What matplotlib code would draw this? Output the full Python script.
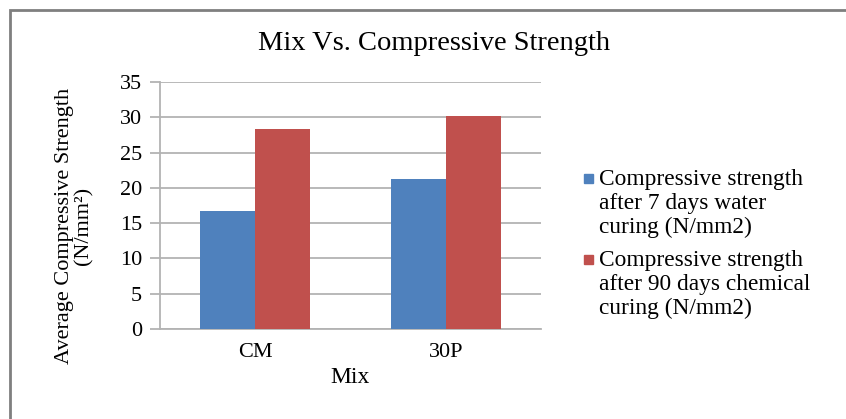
import matplotlib
matplotlib.use("Agg")
import matplotlib.pyplot as plt
import matplotlib.patches as mpatches
import numpy as np

plt.rcParams['font.family'] = ['Liberation Serif', 'DejaVu Serif']

mixes = ["CM", "30P"]
water_7d = [16.7, 21.2]
chem_90d = [28.3, 30.2]
labels = ["Compressive strength\nafter 7 days water\ncuring (N/mm2)",
          "Compressive strength\nafter 90 days chemical\ncuring (N/mm2)"]
colors = ["#4F81BD", "#C0504D"]
yticks = [0, 5, 10, 15, 20, 25, 30, 35]

W, H = 846, 419
fig = plt.figure(figsize=(W / 100, H / 100), dpi=100)
ax = fig.add_axes([160 / W, 1 - 329 / H, 381 / W, 247 / H])

x = np.arange(len(mixes))
bw = 0.29
ax.bar(x - bw / 2, water_7d, bw, color=colors[0], zorder=3)
ax.bar(x + bw / 2, chem_90d, bw, color=colors[1], zorder=3)

ax.set_xlim(-0.5, 1.5)
ax.set_ylim(0, 35)
ax.set_yticks(yticks)
ax.set_xticks(x)
ax.set_xticklabels(mixes)
ax.grid(axis='y', color='#b3b3b3', linewidth=1.3, zorder=0)
ax.tick_params(axis='y', length=7, color='#b3b3b3', width=1.3, labelsize=16, pad=6)
ax.tick_params(axis='x', length=0, labelsize=16, pad=10)
for s in ['top', 'right']:
    ax.spines[s].set_visible(False)
for s in ['left', 'bottom']:
    ax.spines[s].set_color('#b3b3b3')
    ax.spines[s].set_linewidth(1.3)

ax.set_xlabel("Mix", fontsize=17, labelpad=4)
ax.set_ylabel("Average Compressive Strength\n(N/mm²)", fontsize=16, linespacing=0.95)
ax.yaxis.set_label_coords((93 - 160) / 381, (329 - 226) / 247)
fig.text(434 / W, 1 - 44 / H, "Mix Vs. Compressive Strength", fontsize=20.5,
         ha='center', va='center')

# legend drawn by hand so the swatch sits on the first text line, as in Excel
for i, (lab, c) in enumerate(zip(labels, colors)):
    ytop = 169 + i * 81
    fig.patches.append(mpatches.Rectangle((584 / W, 1 - (ytop + 14) / H), 9 / W, 9 / H,
                                          transform=fig.transFigure, color=c))
    fig.text(599 / W, 1 - ytop / H, lab, fontsize=16.8, ha='left', va='top',
             linespacing=1.17)

# outer chart border
fig.patches.append(mpatches.Rectangle((10 / W, -0.02), 1.0, 1 - 10 / H + 0.02,
                                      transform=fig.transFigure, fill=False,
                                      edgecolor='#7f7f7f', linewidth=2))

fig.savefig("out.png", dpi=100)
